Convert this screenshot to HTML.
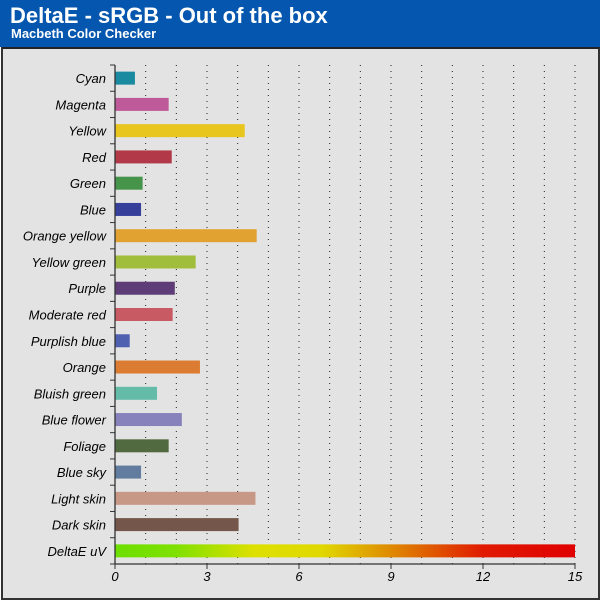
<!DOCTYPE html>
<html><head><meta charset="utf-8"><style>
body{margin:0;width:600px;height:600px;background:#fff;overflow:hidden;font-family:"Liberation Sans",sans-serif}
#hdr{position:absolute;left:0;top:0;width:600px;height:47px;background:#0456ae}
#t1{position:absolute;left:10px;top:3px;color:#fff;font-weight:bold;font-size:22px}
#t2{position:absolute;left:11px;top:26px;color:#fff;font-weight:bold;font-size:13px}
#frame{position:absolute;left:1px;top:47px;width:595px;height:549px;background:#e3e3e3;border:2px solid #333;border-top:2px solid #222}
svg{position:absolute;left:0;top:0}
</style></head><body>
<div id="hdr">
<div id="t1">DeltaE - sRGB - Out of the box</div>
<div id="t2">Macbeth Color Checker</div>
</div>
<div id="frame"></div>
<svg id="c" width="600" height="600">
<defs><linearGradient id="g" x1="0" x2="1" y1="0" y2="0">
<stop offset="0" stop-color="#6ddf00"/><stop offset="0.13" stop-color="#7ee000"/><stop offset="0.3" stop-color="#dde000"/><stop offset="0.45" stop-color="#e0d800"/><stop offset="0.6" stop-color="#df8a00"/><stop offset="0.8" stop-color="#e01a00"/><stop offset="1" stop-color="#e00000"/></linearGradient></defs>
</svg>
<script>
const categories=["Cyan","Magenta","Yellow","Red","Green","Blue","Orange yellow","Yellow green","Purple","Moderate red","Purplish blue","Orange","Bluish green","Blue flower","Foliage","Blue sky","Light skin","Dark skin","DeltaE uV"];
const values=[0.65,1.75,4.23,1.85,0.9,0.85,4.62,2.63,1.95,1.88,0.48,2.77,1.37,2.18,1.75,0.85,4.58,4.03,15];
const colors=["#1a8aa0","#be5a9a","#e8c61e","#b23a48","#46934a","#36409a","#e2a232","#a0be3c","#5e3c78","#c85a64","#5060b0","#dc7c32","#64bca8","#8882bc","#526a40","#627ca0","#c89886","#74564a","url(#g)"];
const xTicks=[0,3,6,9,12,15];
const X0=115,X1=575,Y0=65,Y1=564,XMAX=15;
const xs=v=>X0+(X1-X0)*v/XMAX;
const band=(Y1-Y0)/categories.length;
const svg=document.getElementById('c');const NS='http://www.w3.org/2000/svg';
function mk(t,a){const e=document.createElementNS(NS,t);for(const k in a)e.setAttribute(k,a[k]);svg.appendChild(e);return e;}
for(let i=1;i<=XMAX;i++){const l=mk('line',{x1:xs(i),x2:xs(i),y1:Y0,y2:Y1,stroke:'#222','stroke-width':1,'stroke-dasharray':'1,5'});

}
categories.forEach((c,i)=>{const cy=Y0+band*(i+0.5);
const r=mk('rect',{x:X0,y:cy-6.5,width:xs(values[i])-X0,height:13,fill:colors[i]});


const t=mk('text',{x:106,y:cy+5,'text-anchor':'end','font-size':13,'font-style':'italic',fill:'#000'});t.textContent=c;

});
for(let i=0;i<=categories.length;i++){const y=Y0+band*i;const tk=mk('line',{x1:X0-5,x2:X0,y1:y,y2:y,stroke:'#333'});

}
const ya=mk('line',{x1:X0,x2:X0,y1:Y0,y2:Y1,stroke:'#333','stroke-width':1.3});


const xa=mk('line',{x1:X0,x2:X1,y1:Y1,y2:Y1,stroke:'#333','stroke-width':1.3});


xTicks.forEach(v=>{const tk=mk('line',{x1:xs(v),x2:xs(v),y1:Y1,y2:Y1+5,stroke:'#333'});


const t=mk('text',{x:xs(v),y:Y1+17,'text-anchor':'middle','font-size':13,'font-style':'italic'});t.textContent=v;

});
</script>
</body></html>
